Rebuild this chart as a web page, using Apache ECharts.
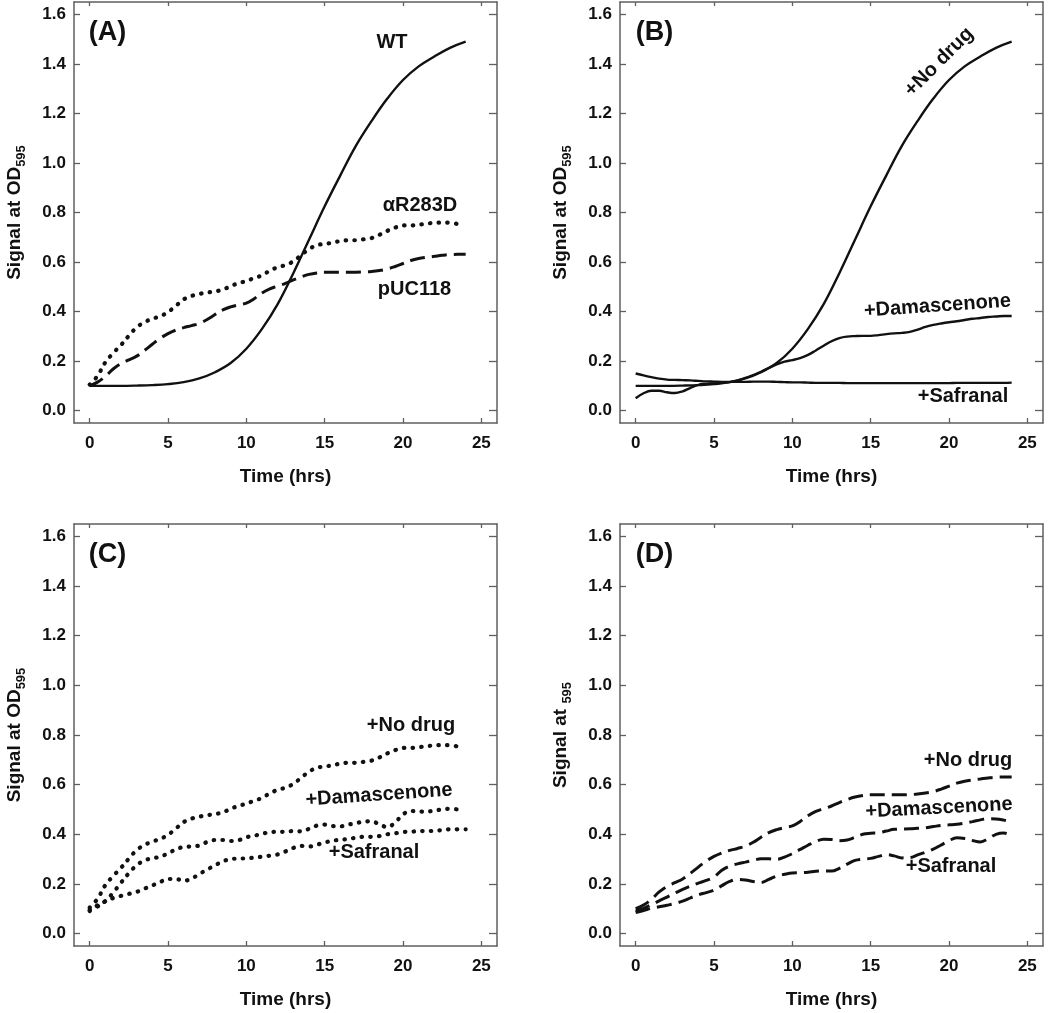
<!DOCTYPE html>
<html><head><meta charset="utf-8">
<script src="https://cdn.jsdelivr.net/npm/echarts@6/dist/echarts.min.js"></script>
<style>html,body{margin:0;padding:0;background:#fff}#c{width:1050px;height:1013px}</style>
</head><body><div id="c"></div>
<script>
// ---------- data ----------
const hours = [0,1,2,3,4,5,6,7,8,9,10,11,12,13,14,15,16,17,18,19,20,21,22,23,24];
const halfHours = [0,0.5,1,1.5,2,2.5,3,3.5,4,4.5,5,5.5,6,6.5,7,7.5,8,8.5,9,9.5,10,10.5,11,11.5,12,12.5,13,13.5,14,14.5,15,15.5,16,16.5,17,17.5,18,18.5,19,19.5,20,20.5,21,21.5,22,22.5,23,23.5,24];
const xTicks = [0,5,10,15,20,25];
const yTicks = [0,0.2,0.4,0.6,0.8,1.0,1.2,1.4,1.6];

// Panel A / B: WT = no drug (solid)
const wt = [0.100,0.100,0.100,0.101,0.103,0.107,0.115,0.130,0.155,0.192,0.250,0.330,0.430,0.555,0.690,0.825,0.950,1.070,1.170,1.260,1.335,1.390,1.430,1.465,1.490];
// Panel A / C: αR283D = no drug (dotted)
const aR283D = [0.105,0.140,0.195,0.232,0.265,0.302,0.336,0.357,0.371,0.381,0.398,0.423,0.449,0.463,0.471,0.477,0.481,0.489,0.502,0.515,0.523,0.536,0.546,0.565,0.579,0.588,0.603,0.628,0.652,0.668,0.673,0.678,0.685,0.688,0.688,0.692,0.697,0.710,0.726,0.739,0.748,0.748,0.751,0.755,0.758,0.759,0.759,0.753];
// Panel A / D: pUC118 = no drug (dashed)
const pUC118 = [0.100,0.115,0.138,0.168,0.190,0.205,0.220,0.243,0.268,0.292,0.311,0.325,0.335,0.343,0.352,0.368,0.388,0.407,0.419,0.427,0.434,0.452,0.475,0.492,0.503,0.514,0.528,0.540,0.550,0.556,0.559,0.559,0.559,0.559,0.559,0.560,0.562,0.566,0.572,0.582,0.594,0.606,0.614,0.619,0.623,0.627,0.630,0.631,0.631];
// Panel B
const bDamascenone = [0.050,0.070,0.080,0.080,0.074,0.071,0.078,0.092,0.104,0.108,0.110,0.112,0.115,0.122,0.132,0.143,0.157,0.172,0.187,0.198,0.204,0.212,0.225,0.243,0.262,0.280,0.293,0.299,0.301,0.302,0.302,0.305,0.309,0.312,0.314,0.318,0.327,0.338,0.346,0.352,0.357,0.361,0.366,0.371,0.374,0.378,0.380,0.382,0.382];
const bSafranal = [0.150,0.142,0.135,0.129,0.125,0.124,0.123,0.122,0.120,0.118,0.117,0.116,0.116,0.116,0.116,0.117,0.117,0.117,0.116,0.115,0.114,0.114,0.113,0.112,0.112,0.112,0.112,0.111,0.111,0.111,0.111,0.111,0.111,0.111,0.111,0.111,0.111,0.111,0.111,0.111,0.111,0.112,0.112,0.112,0.112,0.112,0.112,0.112,0.113];
// Panel C
const cDamascenone = [0.095,0.109,0.131,0.165,0.205,0.243,0.275,0.295,0.303,0.310,0.323,0.339,0.349,0.351,0.355,0.369,0.377,0.377,0.373,0.376,0.388,0.394,0.402,0.408,0.410,0.410,0.413,0.412,0.422,0.435,0.439,0.433,0.432,0.439,0.445,0.451,0.452,0.440,0.429,0.448,0.480,0.494,0.492,0.491,0.496,0.500,0.503,0.500];
const cSafranal = [0.091,0.114,0.130,0.143,0.152,0.160,0.168,0.181,0.194,0.208,0.220,0.220,0.213,0.221,0.240,0.258,0.275,0.291,0.300,0.302,0.303,0.306,0.310,0.314,0.319,0.331,0.345,0.353,0.351,0.358,0.367,0.374,0.378,0.381,0.386,0.390,0.390,0.393,0.400,0.404,0.409,0.410,0.413,0.413,0.414,0.417,0.420,0.420,0.420];
// Panel D
const dDamascenone = [0.090,0.102,0.116,0.132,0.147,0.163,0.178,0.191,0.203,0.214,0.228,0.255,0.272,0.281,0.288,0.295,0.301,0.301,0.299,0.308,0.322,0.339,0.356,0.371,0.380,0.379,0.374,0.377,0.388,0.400,0.404,0.406,0.413,0.420,0.421,0.422,0.424,0.426,0.431,0.436,0.438,0.440,0.445,0.451,0.458,0.463,0.462,0.457,0.450];
const dSafranal = [0.085,0.093,0.102,0.108,0.114,0.121,0.131,0.144,0.156,0.165,0.175,0.193,0.210,0.218,0.216,0.210,0.206,0.218,0.232,0.239,0.244,0.245,0.247,0.251,0.252,0.252,0.263,0.280,0.295,0.300,0.303,0.311,0.318,0.313,0.305,0.306,0.317,0.328,0.340,0.357,0.374,0.386,0.383,0.375,0.369,0.382,0.400,0.405,0.395];

const panelLabels = ['(A)','(B)','(C)','(D)'];
const xTitle = 'Time (hrs)';
const yTitles = ['{a|Signal at OD}{b|595}','{a|Signal at OD}{b|595}','{a|Signal at OD}{b|595}','{a|Signal at }{b|595}'];

// ---------- styles / layout ----------
const FONT = '"Liberation Sans", Arial, Helvetica, sans-serif';
const AX = '#5f5f5f';
const INK = '#111';
const grids = [
  {left:74, top:2, width:423, height:421},
  {left:620, top:2, width:423, height:421},
  {left:74, top:524, width:423, height:422},
  {left:620, top:524, width:423, height:422}
];
const solid = {color:INK, width:2.4, type:'solid'};
const dotted = {color:INK, width:4.2, type:[0.5,8.2], cap:'round'};
const dashed = {color:INK, width:3, type:[15,7], cap:'butt'};

function pairs(ts, vs){ return vs.map((v,i)=>[ts[i], v]); }

const xAxis = [], yAxis = [];
grids.forEach((g, i) => {
  xAxis.push({
    type:'value', gridIndex:i, position:'bottom', min:-1, max:26,
    axisLine:{show:true, onZero:false, lineStyle:{color:AX, width:1.5}},
    axisTick:{show:true, inside:true, length:5, lineStyle:{color:AX, width:1.3}, customValues:xTicks},
    axisLabel:{show:true, customValues:xTicks, margin:12, color:INK, fontFamily:FONT, fontWeight:'bold', fontSize:17},
    splitLine:{show:false},
    name:xTitle, nameLocation:'middle', nameGap:44,
    nameTextStyle:{color:INK, fontFamily:FONT, fontWeight:'bold', fontSize:19}
  });
  xAxis.push({
    type:'value', gridIndex:i, position:'top', min:-1, max:26,
    axisLine:{show:true, onZero:false, lineStyle:{color:AX, width:1.5}},
    axisTick:{show:true, inside:true, length:4, lineStyle:{color:AX, width:1.3}, customValues:xTicks},
    axisLabel:{show:false}, splitLine:{show:false}
  });
  yAxis.push({
    type:'value', gridIndex:i, position:'left', min:-0.05, max:1.65,
    axisLine:{show:true, onZero:false, lineStyle:{color:AX, width:1.5}},
    axisTick:{show:true, inside:true, length:6, lineStyle:{color:AX, width:1.3}, customValues:yTicks},
    axisLabel:{show:true, customValues:yTicks, margin:8, color:INK, fontFamily:FONT, fontWeight:'bold', fontSize:17,
      formatter:(v)=>Number(v).toFixed(1)},
    splitLine:{show:false},
    name:yTitles[i], nameLocation:'middle', nameGap:46, nameRotate:90,
    nameTextStyle:{
      rich:{
        a:{color:INK, fontFamily:FONT, fontWeight:'bold', fontSize:19, lineHeight:27},
        b:{color:INK, fontFamily:FONT, fontWeight:'bold', fontSize:13, lineHeight:13, verticalAlign:'bottom'}
      }
    }
  });
  yAxis.push({
    type:'value', gridIndex:i, position:'right', min:-0.05, max:1.65,
    axisLine:{show:true, onZero:false, lineStyle:{color:AX, width:1.5}},
    axisTick:{show:true, inside:true, length:8, lineStyle:{color:AX, width:1.3}, customValues:yTicks},
    axisLabel:{show:false}, splitLine:{show:false}
  });
});

function line(name, panel, ts, vs, style){
  return {name, type:'line', xAxisIndex:panel*2, yAxisIndex:panel*2, data:pairs(ts, vs),
    showSymbol:false, symbol:'none', smooth:0.4, lineStyle:style, silent:true, z:3};
}

const series = [
  line('WT',0,hours,wt,solid),
  line('αR283D',0,halfHours,aR283D,dotted),
  line('pUC118',0,halfHours,pUC118,dashed),
  line('+No drug',1,hours,wt,solid),
  line('+Damascenone',1,halfHours,bDamascenone,solid),
  line('+Safranal',1,halfHours,bSafranal,solid),
  line('+No drug',2,halfHours,aR283D,dotted),
  line('+Damascenone',2,halfHours,cDamascenone,dotted),
  line('+Safranal',2,halfHours,cSafranal,dotted),
  line('+No drug',3,halfHours,pUC118,dashed),
  line('+Damascenone',3,halfHours,dDamascenone,dashed),
  line('+Safranal',3,halfHours,dSafranal,dashed)
];

function txt(text, x, y, size, rotDeg){
  return {type:'text', x, y, rotation:(rotDeg||0)*Math.PI/180, z:10,
    style:{text, fill:INK, font:'bold '+size+'px '+FONT, textAlign:'center', textVerticalAlign:'middle'}};
}
const graphic = [
  txt(panelLabels[0],107.5,32.5,27), txt(panelLabels[1],654.5,32.5,27),
  txt(panelLabels[2],107.5,555,27),  txt(panelLabels[3],654.5,555,27),
  txt('WT',392,42.5,20),
  txt('αR283D',420,205,20),
  txt('pUC118',414.5,289,20),
  txt('+No drug',939,62,20,45),
  txt('+Damascenone',937.5,306,20,4),
  txt('+Safranal',963,396.5,20),
  txt('+No drug',411,725,20),
  txt('+Damascenone',379,795,20,4),
  txt('+Safranal',374,852,20),
  txt('+No drug',968,760,20),
  txt('+Damascenone',939,808,20,3),
  txt('+Safranal',951,866,20)
];

const chart = echarts.init(document.getElementById('c'), null, {renderer:'canvas'});
chart.setOption({animation:false, backgroundColor:'#fff', grid:grids, xAxis, yAxis, series, graphic});
</script></body></html>
